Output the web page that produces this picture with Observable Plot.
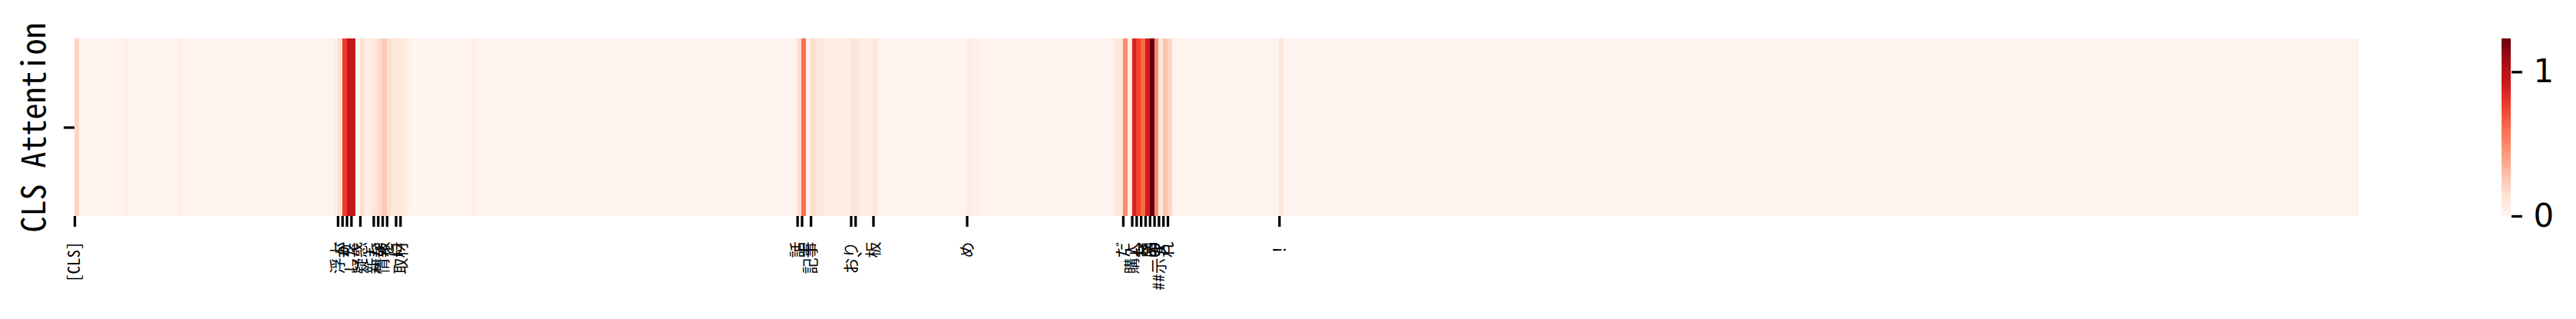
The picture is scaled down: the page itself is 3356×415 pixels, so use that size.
<!DOCTYPE html>
<html><head><meta charset="utf-8">
<script src="https://cdn.jsdelivr.net/npm/d3@7"></script>
<script src="https://cdn.jsdelivr.net/npm/@observablehq/plot@0.6"></script>
<style>
html,body{margin:0;padding:0;background:#fff;}
#chart{position:relative;width:3356px;height:415px;color:#000;}
#chart svg{position:absolute;left:0;top:0;}
</style></head><body><div id="chart"></div>
<script>
// token positions that carry a tick label, and their labels
const tokenIndex = [0, 59, 60, 61, 62, 64, 67, 68, 69, 70, 72, 73, 162, 163, 165, 174, 175, 179, 200, 235, 237, 238, 239, 240, 241, 242, 243, 244, 245, 270];
const tokenLabels = ["[CLS]", "浮上", "が", "り", "した", "疑惑", "新た", "な", "情報", "を", "に", "取材", "話", "上", "記事", "おり", "、", "板", "め", "だ", "購入", "し", "た", "商", "品", "の", "##示す", "さ", "れ", "！"];

// CLS attention per token (512 tokens)
const attention = [
0.20,0.012,0.012,0.012,0.012,0.012,0.012,0.012,0.012,0.012,0.012,0.05,0.012,0.012,0.012,0.012,
0.012,0.012,0.012,0.012,0.012,0.012,0.012,0.06,0.012,0.012,0.012,0.012,0.012,0.012,0.012,0.012,
0.012,0.012,0.012,0.012,0.012,0.012,0.012,0.012,0.012,0.012,0.012,0.012,0.012,0.012,0.012,0.012,
0.012,0.012,0.012,0.012,0.012,0.012,0.012,0.012,0.012,0.012,0.06,0.16,0.77,0.94,0.95,0.025,
0.15,0.06,0.07,0.12,0.18,0.25,0.16,0.10,0.10,0.09,0.05,0.012,0.012,0.012,0.012,0.012,
0.012,0.012,0.012,0.012,0.012,0.012,0.012,0.012,0.012,0.05,0.012,0.012,0.012,0.012,0.012,0.012,
0.012,0.012,0.012,0.012,0.012,0.012,0.012,0.012,0.012,0.012,0.012,0.012,0.012,0.012,0.012,0.012,
0.012,0.012,0.012,0.012,0.012,0.012,0.012,0.012,0.012,0.012,0.012,0.012,0.012,0.012,0.012,0.012,
0.012,0.012,0.012,0.012,0.012,0.012,0.012,0.012,0.012,0.012,0.012,0.012,0.012,0.012,0.012,0.012,
0.012,0.012,0.012,0.012,0.012,0.012,0.012,0.012,0.012,0.012,0.012,0.012,0.012,0.012,0.012,0.012,
0.012,0.03,0.18,0.59,0.04,0.17,0.10,0.10,0.06,0.06,0.06,0.05,0.05,0.05,0.12,0.12,
0.05,0.05,0.05,0.12,0.012,0.012,0.012,0.012,0.012,0.012,0.012,0.012,0.012,0.012,0.012,0.012,
0.012,0.012,0.012,0.012,0.012,0.012,0.012,0.012,0.075,0.04,0.04,0.012,0.012,0.012,0.012,0.012,
0.012,0.012,0.012,0.012,0.012,0.012,0.012,0.012,0.012,0.012,0.012,0.012,0.012,0.012,0.012,0.012,
0.012,0.012,0.012,0.012,0.012,0.012,0.012,0.012,0.012,0.10,0.10,0.49,0.05,0.87,0.75,0.62,
0.90,1.231,0.49,0.09,0.27,0.20,0.012,0.012,0.012,0.012,0.012,0.012,0.012,0.012,0.012,0.012,
0.012,0.012,0.012,0.012,0.012,0.012,0.012,0.012,0.012,0.012,0.012,0.012,0.012,0.012,0.11,0.012,
0.012,0.012,0.012,0.012,0.012,0.012,0.012,0.012,0.012,0.012,0.012,0.012,0.012,0.012,0.012,0.012,
0.012,0.012,0.012,0.012,0.012,0.012,0.012,0.012,0.012,0.012,0.012,0.012,0.012,0.012,0.012,0.012,
0.012,0.012,0.012,0.012,0.012,0.012,0.012,0.012,0.012,0.012,0.012,0.012,0.012,0.012,0.012,0.012,
0.012,0.012,0.012,0.012,0.012,0.012,0.012,0.012,0.012,0.012,0.012,0.012,0.012,0.012,0.012,0.012,
0.012,0.012,0.012,0.012,0.012,0.012,0.012,0.012,0.012,0.012,0.012,0.012,0.012,0.012,0.012,0.012,
0.012,0.012,0.012,0.012,0.012,0.012,0.012,0.012,0.012,0.012,0.012,0.012,0.012,0.012,0.012,0.012,
0.012,0.012,0.012,0.012,0.012,0.012,0.012,0.012,0.012,0.012,0.012,0.012,0.012,0.012,0.012,0.012,
0.012,0.012,0.012,0.012,0.012,0.012,0.012,0.012,0.012,0.012,0.012,0.012,0.012,0.012,0.012,0.012,
0.012,0.012,0.012,0.012,0.012,0.012,0.012,0.012,0.012,0.012,0.012,0.012,0.012,0.012,0.012,0.012,
0.012,0.012,0.012,0.012,0.012,0.012,0.012,0.012,0.012,0.012,0.012,0.012,0.012,0.012,0.012,0.012,
0.012,0.012,0.012,0.012,0.012,0.012,0.012,0.012,0.012,0.012,0.012,0.012,0.012,0.012,0.012,0.012,
0.012,0.012,0.012,0.012,0.012,0.012,0.012,0.012,0.012,0.012,0.012,0.012,0.012,0.012,0.012,0.012,
0.012,0.012,0.012,0.012,0.012,0.012,0.012,0.012,0.012,0.012,0.012,0.012,0.012,0.012,0.012,0.012,
0.012,0.012,0.012,0.012,0.012,0.012,0.012,0.012,0.012,0.012,0.012,0.012,0.012,0.012,0.012,0.012,
0.012,0.012,0.012,0.012,0.012,0.012,0.012,0.012,0.012,0.012,0.012,0.012,0.012,0.012,0.012,0.012
];

const rowLabel = ["CLS Attention"];
const colorbarTicks = [0, 1];
const vmax = 1.231;
const redsStops = ["#fff5f0","#fee0d2","#fcbba1","#fc9272","#fb6a4a","#ef3b2c","#cb181d","#a50f15","#67000d"];

const jpFont = '"Noto Sans Mono CJK JP", "Noto Sans CJK JP", sans-serif';
const cells = attention.map((v, i) => ({i, v}));
const labelOf = new Map(tokenIndex.map((k, j) => [k, tokenLabels[j]]));
const colorScale = {type: "linear", domain: redsStops.map((_, k) => k * vmax / (redsStops.length - 1)), range: redsStops, interpolate: "rgb"};

const main = Plot.plot({
  width: 3356, height: 415,
  marginLeft: 97, marginRight: 283, marginTop: 50, marginBottom: 134,
  x: {domain: [0, attention.length], axis: null},
  y: {domain: ["CLS"], padding: 0, axis: null},
  color: colorScale,
  style: {background: "transparent", color: "#000"},
  marks: [
    Plot.barX(cells, {x1: d => d.i, x2: d => d.i + 1, y: () => "CLS", fill: d => d.v, shapeRendering: "crispEdges"}),
    Plot.axisX({ticks: tokenIndex, tickSize: 14, tickPadding: 19, tickRotate: -90, tickFormat: i => labelOf.get(i), fontSize: 21, fontFamily: jpFont, strokeWidth: 3.3, label: null}),
    Plot.axisY({tickSize: 14, tickFormat: () => "", strokeWidth: 3.3, label: null}),
    Plot.text(rowLabel, {frameAnchor: "left", dx: -52, rotate: -90, textAnchor: "middle", lineAnchor: "middle", fontSize: 42, fontFamily: jpFont, fill: "#000"})
  ]
});

const step = vmax / 256;
const ramp = d3.range(256).map(k => k * step);
const cbar = Plot.plot({
  width: 3356, height: 415,
  marginLeft: 3259, marginRight: 85, marginTop: 50, marginBottom: 134,
  x: {domain: [0, 1], axis: null},
  y: {domain: [0, vmax], axis: null},
  color: colorScale,
  style: {background: "transparent", color: "#000"},
  marks: [
    Plot.rect(ramp, {x1: () => 0, x2: () => 1, y1: d => d, y2: d => d + step * 1.02, fill: d => d + step / 2, shapeRendering: "crispEdges"}),
    Plot.axisY({anchor: "right", ticks: colorbarTicks, tickSize: 14, tickPadding: 15, tickFormat: d3.format("d"), fontSize: 42, fontFamily: "DejaVu Sans", strokeWidth: 3.3, label: null})
  ]
});

const chart = document.getElementById("chart");
chart.appendChild(main);
chart.appendChild(cbar);
</script></body></html>
